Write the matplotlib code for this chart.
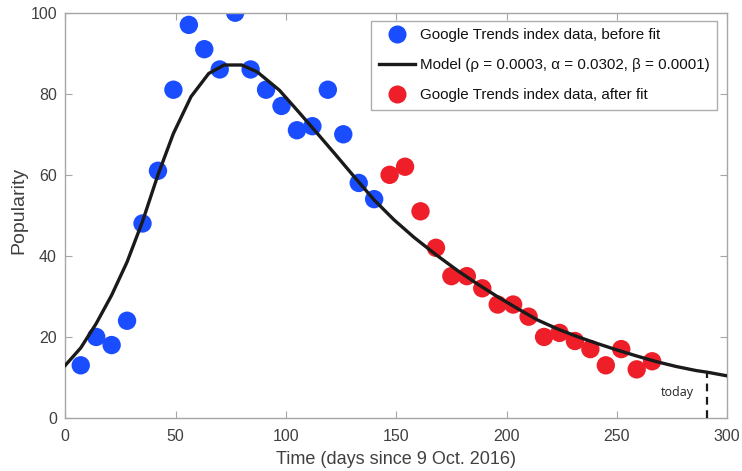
import matplotlib
matplotlib.use("Agg")
import matplotlib.pyplot as plt
from matplotlib.lines import Line2D

plt.rcParams['font.family'] = ['Liberation Sans', 'DejaVu Sans']

# --- data ---
before_t = [7, 14, 21, 28, 35, 42, 49, 56, 63, 70, 77, 84, 91, 98, 105, 112, 119, 126, 133, 140]
before_v = [13, 20, 18, 24, 48, 61, 81, 97, 91, 86, 100, 86, 81, 77, 71, 72, 81, 70, 58, 54]
after_t = [147, 154, 161, 168, 175, 182, 189, 196, 203, 210, 217, 224, 231, 238, 245, 252, 259, 266]
after_v = [60, 62, 51, 42, 35, 35, 32, 28, 28, 25, 20, 21, 19, 17, 13, 17, 12, 14]
model_t = [0, 7, 14, 21, 28, 35, 42, 49, 57, 65, 72, 80, 87, 97, 105, 113, 122, 131, 140, 149, 158,
           168, 178, 187, 196, 205, 214, 223, 232, 241, 250, 259, 268, 277, 286, 291, 300]
model_v = [13, 17.3, 23.3, 30.3, 38.5, 48.5, 60, 70.2, 79.3, 85, 87.1, 87.1, 85.4, 80.9, 76, 71, 65.3,
           59.5, 53.8, 48.9, 44.6, 40.3, 36.3, 33.0, 29.9, 27.0, 24.2, 22.0, 20.1, 18.4, 16.8, 15.3,
           13.9, 12.7, 11.7, 11.3, 10.4]
today_t = 291
legend_labels = ["Google Trends index data, before fit",
                 "Model (ρ = 0.0003, α = 0.0302, β = 0.0001)",
                 "Google Trends index data, after fit"]
xticks = [0, 50, 100, 150, 200, 250, 300]
yticks = [0, 20, 40, 60, 80, 100]

blue = '#1a4dff'
red = '#ee1f28'
line_c = '#1a1a1a'
spine_c = '#a6a6a6'
text_c = '#404040'

fig = plt.figure(figsize=(7.42, 4.71), dpi=100)
ax = fig.add_axes([0.088, 0.1125, 0.892, 0.8605])

ax.scatter(before_t, before_v, s=175, color=blue, edgecolors='none', zorder=2)
ax.scatter(after_t, after_v, s=175, color=red, edgecolors='none', zorder=2)
ax.plot(model_t, model_v, color=line_c, lw=2.4, zorder=3)
ax.plot([today_t, today_t], [0, 11.3], color=line_c, lw=1.6, ls=(0, (3.5, 2.5)), zorder=3)
ax.text(285, 6.2, 'today', ha='right', va='center', fontsize=9, color='#222222',
        family=['Open Sans', 'DejaVu Sans'])

ax.set_xlim(0, 300)
ax.set_ylim(0, 100)
ax.set_xticks(xticks)
ax.set_yticks(yticks)
for s in ax.spines.values():
    s.set_color(spine_c)
    s.set_linewidth(1.0)
ax.tick_params(direction='in', length=5, width=0.8, color=spine_c, labelcolor=text_c,
               labelsize=11.5, top=True, right=True)
ax.tick_params(axis='x', pad=8)
ax.tick_params(axis='y', pad=6)
ax.set_xlabel('Time (days since 9 Oct. 2016)', fontsize=13, color=text_c)
ax.set_ylabel('Popularity', fontsize=14, color=text_c)
ax.xaxis.set_label_coords(0.5, -0.082)
ax.yaxis.set_label_coords(-0.058, 0.513)

handles = [Line2D([], [], ls='none', marker='o', ms=13, color=blue, mec='none'),
           Line2D([], [], color=line_c, lw=2.4),
           Line2D([], [], ls='none', marker='o', ms=13, color=red, mec='none')]
leg = ax.legend(handles, legend_labels, loc='upper right', bbox_to_anchor=(0.985, 0.98),
                fontsize=10.9, frameon=True, fancybox=False, edgecolor='#999999',
                handlelength=2.4, handletextpad=0.33, labelspacing=1.06, borderpad=0.5,
                borderaxespad=0)
leg.get_frame().set_linewidth(1.0)
for t in leg.get_texts():
    t.set_color('#111111')

fig.savefig('out.png', dpi=100)
